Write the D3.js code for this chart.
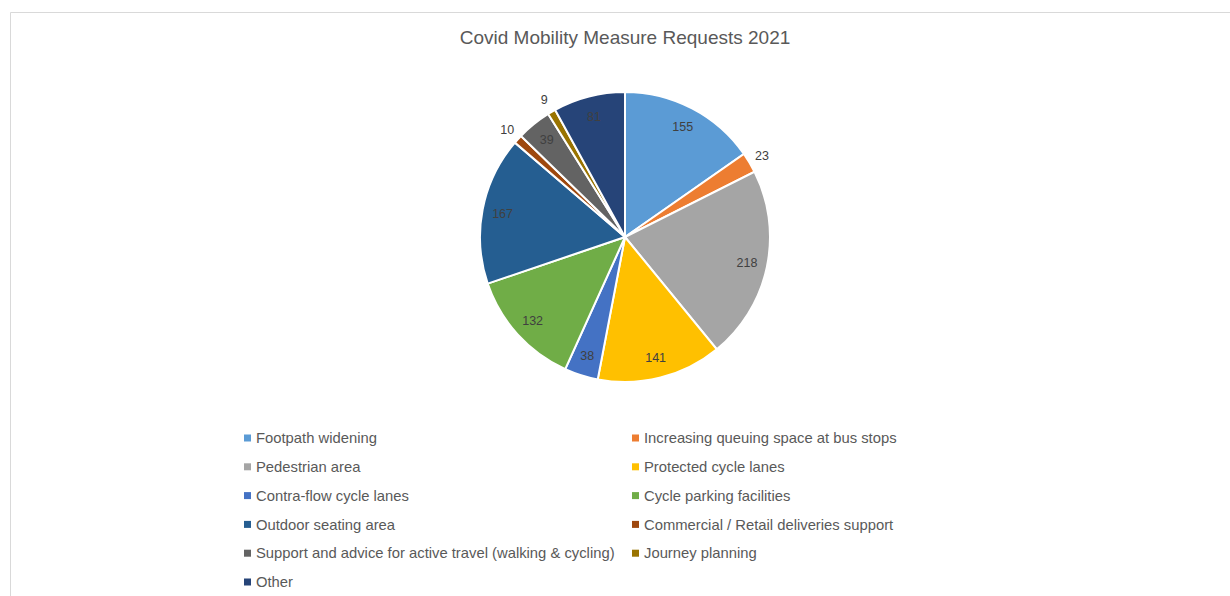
<!DOCTYPE html>
<html>
<head>
<meta charset="utf-8">
<script src="https://cdn.jsdelivr.net/npm/d3@7"></script>
<style>
  body { margin: 0; background: #fff; }
  text { font-family: "Liberation Sans", Arial, sans-serif; fill: #595959; }
</style>
</head>
<body>
<div id="chart"></div>
<script>
var categories = ["Footpath widening", "Increasing queuing space at bus stops", "Pedestrian area",
  "Protected cycle lanes", "Contra-flow cycle lanes", "Cycle parking facilities",
  "Outdoor seating area", "Commercial / Retail deliveries support",
  "Support and advice for active travel (walking & cycling)", "Journey planning", "Other"];
var values = [155, 23, 218, 141, 38, 132, 167, 10, 39, 9, 81];
var colors = ["#5b9bd5", "#ed7d31", "#a5a5a5", "#ffc000", "#4472c4", "#70ad47",
  "#255e91", "#9e480e", "#636363", "#997300", "#264478"];
var title = "Covid Mobility Measure Requests 2021";

var width = 1230, height = 596;
var cx = 625, cy = 237, radius = 145;

var svg = d3.select("#chart").append("svg")
    .attr("width", width)
    .attr("height", height);

// chart frame (only top/left edges visible in the crop)
svg.append("path")
    .attr("d", "M10.5," + height + "V12.5H" + width)
    .attr("fill", "none")
    .attr("stroke", "#d9d9d9");

svg.append("text")
    .attr("x", cx)
    .attr("y", 44)
    .attr("text-anchor", "middle")
    .style("font-size", "19px")
    .text(title);

var data = categories.map(function(c, i) { return {name: c, value: values[i], color: colors[i]}; });

var pie = d3.pie().sort(null).value(function(d) { return d.value; });
var arc = d3.arc().innerRadius(0).outerRadius(radius);
var arcs = pie(data);

var g = svg.append("g").attr("transform", "translate(" + cx + "," + cy + ")");

g.selectAll("path.slice")
  .data(arcs)
  .enter().append("path")
    .attr("class", "slice")
    .attr("d", arc)
    .attr("fill", function(d) { return d.data.color; })
    .attr("stroke", "#fff")
    .attr("stroke-width", 2);

// small slices get their label outside the pie, like Excel's best fit
var inside = d3.arc().innerRadius(radius * 0.86).outerRadius(radius * 0.86);
var outside = d3.arc().innerRadius(radius * 1.1).outerRadius(radius * 1.1);

g.selectAll("text.lbl")
  .data(arcs)
  .enter().append("text")
    .attr("class", "lbl")
    .attr("transform", function(d) {
      var p = d.data.value < 30 ? outside.centroid(d) : inside.centroid(d);
      return "translate(" + p + ")";
    })
    .attr("text-anchor", "middle")
    .attr("dy", "0.35em")
    .style("font-size", "12.5px")
    .style("fill", "#404040")
    .text(function(d) { return d.data.value; });

// legend, two columns
var legend = svg.append("g");
var colX = [247, 635], rowY0 = 438, rowH = 28.8;

var item = legend.selectAll("g")
  .data(data)
  .enter().append("g")
    .attr("transform", function(d, i) {
      return "translate(" + colX[i % 2] + "," + (rowY0 + Math.floor(i / 2) * rowH) + ")";
    });

item.append("rect")
    .attr("x", -3)
    .attr("y", -3.5)
    .attr("width", 7)
    .attr("height", 7)
    .attr("fill", function(d) { return d.color; });

item.append("text")
    .attr("x", 9)
    .attr("dy", "0.35em")
    .style("font-size", "14.8px")
    .text(function(d) { return d.name; });
</script>
</body>
</html>
